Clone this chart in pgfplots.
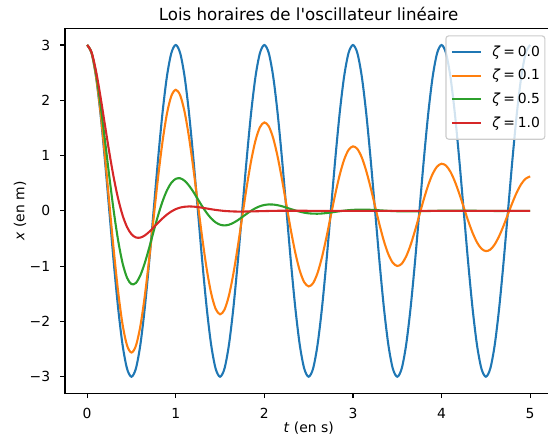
\documentclass[border=0pt]{standalone}
\usepackage{fontspec}
\setmainfont{DejaVu Sans}
\newfontfamily\nomap{DejaVu Sans}
\usepackage{pgfplots}
\pgfplotsset{compat=1.18}
\definecolor{c0}{HTML}{1F77B4}
\definecolor{c1}{HTML}{FF7F0E}
\definecolor{c2}{HTML}{2CA02C}
\definecolor{c3}{HTML}{D62728}
\begin{document}
\begin{tikzpicture}
\begin{axis}[name=ax, at={(0,0)}, anchor=south west,
  scale only axis, width=350.86pt, height=262.73pt,
  xmin=-0.25, xmax=5.25, ymin=-3.3, ymax=3.3,
  xtick={0,1,2,3,4,5}, ytick={-3,-2,-1,0,1,2,3},
  xticklabels={0,1,2,3,4,5}, yticklabels={−3,−2,−1,0,1,2,3},
  tick align=outside, tick pos=left, major tick length=3.5pt,
  tick style={black, line width=0.8pt},
  axis line style={line width=0.8pt, black},
  every tick label/.append style={font=\fontsize{10}{12}\selectfont},
  xticklabel style={anchor=base, inner sep=0pt, yshift=-14.4pt},
  yticklabel style={anchor=east, inner sep=0pt, xshift=-7pt},
  title={Lois horaires de l{\nomap '}oscillateur linéaire},
  title style={at={(axis description cs:0.5,0.9993)}, anchor=base, inner sep=0pt, font=\fontsize{12}{14}\selectfont},
  xlabel={\textit{t} (en s)},
  xlabel style={at={(axis description cs:0.5,-0.1062)}, anchor=base, inner sep=0pt, font=\fontsize{10}{12}\selectfont},
  ylabel={\textit{x} (en m)},
  ylabel style={at={(axis description cs:-0.0923,0.5)}, anchor=center, inner sep=0pt, font=\fontsize{10}{12}\selectfont},
  legend cell align=left,
  legend image code/.code={\draw[#1] (0pt,0pt) -- (21pt,0pt); \path (28.5pt,0pt);},
  legend style={at={(axis description cs:0.9858,0.981)}, anchor=north east,
    draw=black!20, line width=0.8pt, rounded corners=2pt, fill=white, fill opacity=0.8, text opacity=1,
    font=\fontsize{10}{12}\selectfont, inner xsep=3.5pt, inner ysep=7pt, row sep=8pt,
    nodes={inner sep=0pt}},
  every axis plot/.append style={line width=1.5pt, smooth},
]
\addplot[c0] coordinates {
(0,3) (0.05,2.8532) (0.1,2.4271) (0.15,1.7634) (0.2,0.9271) (0.25,0) (0.3,-0.9271) (0.35,-1.7634) (0.4,-2.4271) (0.45,-2.8532) (0.5,-3) (0.55,-2.8532) (0.6,-2.4271) (0.65,-1.7634) (0.7,-0.9271) (0.75,0) (0.8,0.9271) (0.85,1.7634) (0.9,2.4271) (0.95,2.8532)
(1,3) (1.05,2.8532) (1.1,2.4271) (1.15,1.7634) (1.2,0.9271) (1.25,0) (1.3,-0.9271) (1.35,-1.7634) (1.4,-2.4271) (1.45,-2.8532) (1.5,-3) (1.55,-2.8532) (1.6,-2.4271) (1.65,-1.7634) (1.7,-0.9271) (1.75,0) (1.8,0.9271) (1.85,1.7634) (1.9,2.4271) (1.95,2.8532)
(2,3) (2.05,2.8532) (2.1,2.4271) (2.15,1.7634) (2.2,0.9271) (2.25,0) (2.3,-0.9271) (2.35,-1.7634) (2.4,-2.4271) (2.45,-2.8532) (2.5,-3) (2.55,-2.8532) (2.6,-2.4271) (2.65,-1.7634) (2.7,-0.9271) (2.75,0) (2.8,0.9271) (2.85,1.7634) (2.9,2.4271) (2.95,2.8532)
(3,3) (3.05,2.8532) (3.1,2.4271) (3.15,1.7634) (3.2,0.9271) (3.25,0) (3.3,-0.9271) (3.35,-1.7634) (3.4,-2.4271) (3.45,-2.8532) (3.5,-3) (3.55,-2.8532) (3.6,-2.4271) (3.65,-1.7634) (3.7,-0.9271) (3.75,0) (3.8,0.9271) (3.85,1.7634) (3.9,2.4271) (3.95,2.8532)
(4,3) (4.05,2.8532) (4.1,2.4271) (4.15,1.7634) (4.2,0.9271) (4.25,0) (4.3,-0.9271) (4.35,-1.7634) (4.4,-2.4271) (4.45,-2.8532) (4.5,-3) (4.55,-2.8532) (4.6,-2.4271) (4.65,-1.7634) (4.7,-0.9271) (4.75,0) (4.8,0.9271) (4.85,1.7634) (4.9,2.4271) (4.95,2.8532)
(5,3)};
\addlegendentry{\textit{ζ}\hspace{0.2em}=\hspace{0.2em}0.0}
\addplot[c1] coordinates {
(0,3.000) (0.05,2.855) (0.1,2.439) (0.15,1.801) (0.2,1.009) (0.25,0.144) (0.3,-0.707) (0.35,-1.465) (0.4,-2.057) (0.45,-2.433) (0.5,-2.563) (0.55,-2.442) (0.6,-2.090) (0.65,-1.547) (0.7,-0.871) (0.75,-0.133) (0.8,0.596) (0.85,1.244) (0.9,1.753) (0.95,2.077)
(1,2.190) (1.05,2.090) (1.1,1.790) (1.15,1.328) (1.2,0.752) (1.25,0.121) (1.3,-0.501) (1.35,-1.057) (1.4,-1.493) (1.45,-1.772) (1.5,-1.871) (1.55,-1.788) (1.6,-1.534) (1.65,-1.140) (1.7,-0.649) (1.75,-0.111) (1.8,0.422) (1.85,0.898) (1.9,1.272) (1.95,1.512)
(2,1.599) (2.05,1.529) (2.1,1.314) (2.15,0.979) (2.2,0.560) (2.25,0.100) (2.3,-0.355) (2.35,-0.762) (2.4,-1.083) (2.45,-1.290) (2.5,-1.366) (2.55,-1.308) (2.6,-1.126) (2.65,-0.841) (2.7,-0.484) (2.75,-0.091) (2.8,0.299) (2.85,0.647) (2.9,0.923) (2.95,1.101)
(3,1.167) (3.05,1.119) (3.1,0.965) (3.15,0.722) (3.2,0.417) (3.25,0.082) (3.3,-0.251) (3.35,-0.550) (3.4,-0.786) (3.45,-0.939) (3.5,-0.997) (3.55,-0.957) (3.6,-0.826) (3.65,-0.620) (3.7,-0.360) (3.75,-0.074) (3.8,0.211) (3.85,0.467) (3.9,0.670) (3.95,0.801)
(4,0.852) (4.05,0.819) (4.1,0.708) (4.15,0.532) (4.2,0.311) (4.25,0.066) (4.3,-0.178) (4.35,-0.396) (4.4,-0.570) (4.45,-0.684) (4.5,-0.728) (4.55,-0.701) (4.6,-0.607) (4.65,-0.457) (4.7,-0.268) (4.75,-0.059) (4.8,0.149) (4.85,0.337) (4.9,0.486) (4.95,0.583) (5,0.622)};
\addlegendentry{\textit{ζ}\hspace{0.2em}=\hspace{0.2em}0.1}
\addplot[c2] coordinates {
(0,3.000) (0.05,2.861) (0.1,2.482) (0.15,1.934) (0.2,1.290) (0.25,0.623) (0.3,-0.003) (0.35,-0.538) (0.4,-0.947) (0.45,-1.210) (0.5,-1.326) (0.55,-1.304) (0.6,-1.168) (0.65,-0.946) (0.7,-0.670) (0.75,-0.373) (0.8,-0.086) (0.85,0.167) (0.9,0.368) (0.95,0.507)
(1,0.579) (1.05,0.589) (1.1,0.544) (1.15,0.456) (1.2,0.340) (1.25,0.209) (1.3,0.079) (1.35,-0.039) (1.4,-0.137) (1.45,-0.208) (1.5,-0.250) (1.55,-0.263) (1.6,-0.251) (1.65,-0.217) (1.7,-0.169) (1.75,-0.112) (1.8,-0.054) (1.85,0.001) (1.9,0.048) (1.95,0.084)
(2,0.106) (2.05,0.116) (2.1,0.114) (2.15,0.102) (2.2,0.083) (2.25,0.058) (2.3,0.032) (2.35,0.007) (2.4,-0.015) (2.45,-0.033) (2.5,-0.045) (2.55,-0.051) (2.6,-0.052) (2.65,-0.048) (2.7,-0.040) (2.75,-0.030) (2.8,-0.018) (2.85,-0.007) (2.9,0.004) (2.95,0.012)
(3,0.018) (3.05,0.022) (3.1,0.023) (3.15,0.022) (3.2,0.019) (3.25,0.015) (3.3,0.010) (3.35,0.005) (3.4,0.000) (3.45,-0.004) (3.5,-0.007) (3.55,-0.009) (3.6,-0.010) (3.65,-0.010) (3.7,-0.009) (3.75,-0.007) (3.8,-0.005) (3.85,-0.003) (3.9,-0.001) (3.95,0.001)
(4,0.003) (4.1,0.005) (4.2,0.004) (4.3,0.003) (4.4,0.001) (4.5,-0.001) (4.6,-0.002) (4.7,-0.002) (4.8,-0.001) (4.9,0.000) (5,0.000)};
\addlegendentry{\textit{ζ}\hspace{0.2em}=\hspace{0.2em}0.5}
\addplot[c3] coordinates {
(0,3.000) (0.05,2.867) (0.1,2.530) (0.15,2.070) (0.2,1.561) (0.25,1.058) (0.3,0.602) (0.35,0.218) (0.4,-0.081) (0.45,-0.292) (0.5,-0.422) (0.55,-0.481) (0.6,-0.484) (0.65,-0.446) (0.7,-0.380) (0.75,-0.300) (0.8,-0.217) (0.85,-0.138) (0.9,-0.068) (0.95,-0.012)
(1,0.031) (1.05,0.059) (1.1,0.074) (1.15,0.080) (1.2,0.077) (1.25,0.068) (1.3,0.056) (1.35,0.043) (1.4,0.029) (1.45,0.017) (1.5,0.007) (1.55,-0.002) (1.6,-0.007) (1.65,-0.011) (1.7,-0.013) (1.75,-0.013) (1.8,-0.012) (1.85,-0.010) (1.9,-0.008) (1.95,-0.006)
(2,-0.004) (2.1,0.000) (2.2,0.002) (2.3,0.002) (2.4,0.002) (2.5,0.001) (2.75,0.000) (3,0.000) (3.5,0.000) (4,0.000) (4.5,0.000) (5,0.000)};
\addlegendentry{\textit{ζ}\hspace{0.2em}=\hspace{0.2em}1.0}
\end{axis}
\pgfresetboundingbox
\path[use as bounding box] ([shift={(-46.8pt,-32.9pt)}]ax.south west) rectangle ([shift={(347.76pt,283.18pt)}]ax.south west);
\end{tikzpicture}
\end{document}
